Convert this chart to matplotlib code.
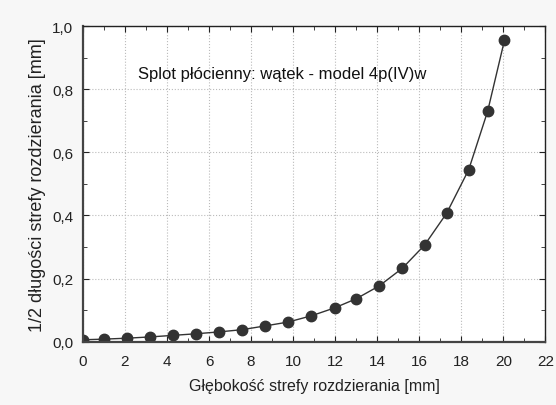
import matplotlib
matplotlib.use("Agg")
import matplotlib.pyplot as plt
from matplotlib.ticker import MultipleLocator, FuncFormatter

# data
depth = [0.0, 1.0, 2.1, 3.2, 4.3, 5.38, 6.49, 7.57, 8.68, 9.75,
         10.87, 11.97, 13.0, 14.1, 15.2, 16.25, 17.3, 18.35, 19.25, 20.05]
half_len = [0.006, 0.008, 0.011, 0.015, 0.02, 0.025, 0.031, 0.038, 0.05, 0.062,
            0.082, 0.107, 0.136, 0.177, 0.233, 0.306, 0.407, 0.545, 0.73, 0.955]

title_txt = "Splot płócienny: wątek - model 4p(IV)w"
xlabel_txt = "Głębokość strefy rozdzierania [mm]"
ylabel_txt = "1/2 długości strefy rozdzierania [mm]"

plt.rcParams['font.family'] = ['Liberation Sans', 'DejaVu Sans']

fig = plt.figure(figsize=(5.56, 4.06), dpi=100, facecolor='#f7f7f7')
ax = fig.add_axes([0.149, 0.156, 0.832, 0.777])
ax.set_facecolor('white')

ax.plot(depth, half_len, color='#333333', lw=1.0, marker='o',
        markersize=7.5, markerfacecolor='#333333', markeredgecolor='#333333')

ax.set_xlim(0, 22)
ax.set_ylim(0, 1.0)
ax.xaxis.set_major_locator(MultipleLocator(2))
ax.xaxis.set_minor_locator(MultipleLocator(1))
ax.yaxis.set_major_locator(MultipleLocator(0.2))
ax.yaxis.set_minor_locator(MultipleLocator(0.1))
ax.yaxis.set_major_formatter(FuncFormatter(lambda v, p: f"{v:.1f}".replace('.', ',')))

ax.grid(True, which='major', color='#bbbbbb', linestyle=':', linewidth=0.8)
ax.tick_params(which='both', direction='in', top=True, right=True,
               labelsize=11, colors='#222222')
ax.tick_params(axis='x', pad=9)
ax.tick_params(axis='y', pad=7)
ax.tick_params(which='major', length=4)
ax.tick_params(which='minor', length=3)

for s in ['left', 'bottom']:
    ax.spines[s].set_linewidth(1.6)
    ax.spines[s].set_color('#444444')
for s in ['top', 'right']:
    ax.spines[s].set_linewidth(1.0)
    ax.spines[s].set_color('#222222')

ax.text(9.5, 0.85, title_txt, fontsize=12, ha='center', va='center', color='#111111')
ax.set_xlabel(xlabel_txt, fontsize=11.5, color='#222222', labelpad=7)
ax.set_ylabel(ylabel_txt, fontsize=13, color='#222222', labelpad=4)

fig.savefig("out.png", dpi=100, facecolor=fig.get_facecolor())
